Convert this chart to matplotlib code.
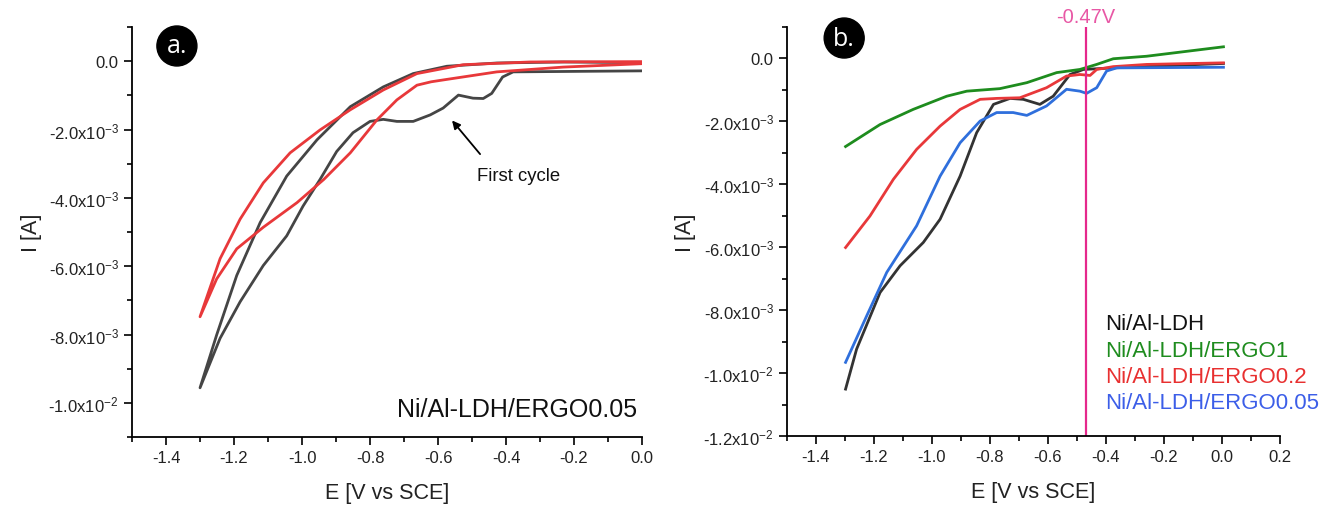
import numpy as np
import matplotlib
matplotlib.use("Agg")
from matplotlib import pyplot as plt
from matplotlib.ticker import MultipleLocator, FuncFormatter

plt.rcParams['font.family'] = ['Liberation Sans', 'DejaVu Sans']
plt.rcParams['mathtext.default'] = 'regular'

# ---- panel a: Ni/Al-LDH/ERGO0.05, two CV cycles (E in V, I in mA) ----
a_first_E = [0.0, -0.379, -0.41, -0.442, -0.467, -0.497, -0.54, -0.585, -0.623, -0.673,
             -0.721, -0.761, -0.80, -0.85, -0.898, -0.947, -0.997, -1.045, -1.114, -1.182,
             -1.241, -1.30,
             -1.251, -1.192, -1.123, -1.045, -0.956, -0.858, -0.761, -0.673, -0.574, -0.427,
             -0.23, 0.0]
a_first_I = [-0.28, -0.31, -0.46, -0.94, -1.09, -1.08, -0.99, -1.37, -1.57, -1.76,
             -1.76, -1.70, -1.76, -2.09, -2.64, -3.46, -4.24, -5.11, -5.98, -7.04,
             -8.11, -9.56,
             -8.01, -6.27, -4.72, -3.36, -2.30, -1.33, -0.75, -0.36, -0.145, -0.05,
             -0.02, -0.04]
a_second_E = [0.0, -0.232, -0.427, -0.574, -0.62, -0.662, -0.721, -0.78, -0.858, -0.936, -1.015,
              -1.114, -1.192, -1.251, -1.30,
              -1.241, -1.182, -1.114, -1.035, -0.947, -0.858, -0.761, -0.662, -0.526,
              -0.329, 0.0]
a_second_I = [-0.07, -0.17, -0.31, -0.53, -0.60, -0.70, -1.13, -1.72, -2.68, -3.46, -4.14,
              -4.86, -5.49, -6.37, -7.48,
              -5.78, -4.62, -3.56, -2.68, -2.01, -1.42, -0.84, -0.36, -0.10,
              -0.02, -0.01]

# ---- panel b: comparison of samples ----
ldh_E = [-1.298, -1.26, -1.179, -1.11, -1.03, -0.972, -0.903, -0.846, -0.788, -0.731,
         -0.685, -0.628, -0.582, -0.524, -0.478, -0.375, 0.005]
ldh_I = [-10.51, -9.24, -7.44, -6.59, -5.85, -5.11, -3.74, -2.36, -1.46, -1.27,
         -1.30, -1.46, -1.20, -0.51, -0.35, -0.30, -0.16]
ergo1_E = [-1.298, -1.179, -1.065, -0.949, -0.88, -0.766, -0.673, -0.57, -0.49, -0.432,
           -0.375, -0.26, -0.145, 0.005]
ergo1_I = [-2.80, -2.10, -1.62, -1.20, -1.04, -0.96, -0.77, -0.45, -0.35, -0.19,
           -0.01, 0.07, 0.20, 0.37]
ergo02_E = [-1.298, -1.214, -1.133, -1.053, -0.972, -0.903, -0.834, -0.777, -0.697, -0.605,
            -0.536, -0.49, -0.455, -0.432, -0.375, -0.26, 0.005]
ergo02_I = [-6.01, -5.01, -3.84, -2.89, -2.15, -1.62, -1.30, -1.27, -1.25, -0.93,
            -0.56, -0.51, -0.54, -0.35, -0.26, -0.19, -0.14]
ergo005_E = [-1.298, -1.225, -1.156, -1.053, -0.972, -0.903, -0.834, -0.777, -0.72, -0.673,
             -0.605, -0.536, -0.49, -0.467, -0.432, -0.398, -0.363, 0.005]
ergo005_I = [-9.66, -8.18, -6.80, -5.32, -3.74, -2.68, -1.99, -1.72, -1.72, -1.81,
             -1.51, -0.98, -1.04, -1.11, -0.93, -0.40, -0.30, -0.28]

b_labels = ['Ni/Al-LDH', 'Ni/Al-LDH/ERGO1', 'Ni/Al-LDH/ERGO0.2', 'Ni/Al-LDH/ERGO0.05']
b_colors = ['#333333', '#1e8c1e', '#e8383a', '#2f6fdc']
b_text_colors = ['#111111', '#1e8c1e', '#e83030', '#3c5ee8']
marker_E = -0.47


def y_fmt(v, pos):
    if abs(v) < 1e-12:
        return '0.0'
    exp = int(np.floor(np.log10(abs(v))))
    mant = v / 10 ** exp
    return '%.1fx10$^{%d}$' % (mant, exp)


def style_axis(ax, xmax, ymin):
    ax.set_xlim(-1.5, xmax)
    ax.set_ylim(ymin, 1e-3)
    ax.xaxis.set_major_locator(MultipleLocator(0.2))
    ax.xaxis.set_minor_locator(MultipleLocator(0.1))
    ax.yaxis.set_major_locator(MultipleLocator(2e-3))
    ax.yaxis.set_minor_locator(MultipleLocator(1e-3))
    ax.yaxis.set_major_formatter(FuncFormatter(y_fmt))
    ax.xaxis.set_major_formatter(FuncFormatter(lambda v, p: '%.1f' % v))
    ax.spines['top'].set_visible(False)
    ax.spines['right'].set_visible(False)
    for s in ('left', 'bottom'):
        ax.spines[s].set_linewidth(1.3)
    ax.tick_params(which='major', direction='out', length=6, width=1.2, labelsize=12, color='black',
                   labelcolor='#222222')
    ax.tick_params(which='minor', direction='out', length=3.5, width=1.2)
    ax.set_xlabel('E [V vs SCE]', fontsize=15.5, labelpad=12, color='#222222')
    ax.set_ylabel('I [A]', fontsize=15.5, labelpad=5, color='#222222')


def badge(ax, x, y, text):
    ax.text(x, y, text, transform=ax.transAxes, ha='center', va='center', color='white',
            fontsize=18, family=['Open Sans', 'DejaVu Sans'],
            bbox=dict(boxstyle='circle,pad=0.3', fc='black', ec='black'))


fig = plt.figure(figsize=(13.35, 5.06), dpi=100)
ax1 = fig.add_axes([0.0989, 0.1344, 0.382, 0.810])
ax2 = fig.add_axes([0.5895, 0.1364, 0.3693, 0.8083])

# panel a
ax1.plot(a_first_E, np.array(a_first_I) * 1e-3, color='#454545', lw=2)
ax1.plot(a_second_E, np.array(a_second_I) * 1e-3, color='#e8383a', lw=2)
ax1.annotate('', xy=(-0.564, -1.67e-3), xytext=(-0.471, -2.78e-3),
             arrowprops=dict(arrowstyle='-|>', color='black', lw=1.3, mutation_scale=12))
ax1.text(-0.364, -3.34e-3, 'First cycle', ha='center', va='center', fontsize=13.3, color='#111111')
ax1.text(0.99, 0.068, 'Ni/Al-LDH/ERGO0.05', transform=ax1.transAxes, ha='right', va='center',
         fontsize=18, color='#111111')
style_axis(ax1, 0.0, -1.1e-2)
badge(ax1, 0.088, 0.954, 'a.')

# panel b
series = [(ldh_E, ldh_I), (ergo1_E, ergo1_I), (ergo02_E, ergo02_I), (ergo005_E, ergo005_I)]
for (E, I), c in zip(series, b_colors):
    ax2.plot(E, np.array(I) * 1e-3, color=c, lw=2)
ax2.axvline(marker_E, color='#e5288c', lw=1.6)
ax2.text(marker_E, 1.003, '%.2fV' % marker_E, transform=ax2.get_xaxis_transform(),
         ha='center', va='bottom', color='#e857a5', fontsize=14.5)
for i, (lab, c) in enumerate(zip(b_labels, b_text_colors)):
    ax2.text(0.645, 0.274 - i * 0.064, lab, transform=ax2.transAxes, ha='left', va='center',
             fontsize=16, color=c)
style_axis(ax2, 0.2, -1.2e-2)
badge(ax2, 0.116, 0.973, 'b.')

fig.savefig('out.png', dpi=100)
